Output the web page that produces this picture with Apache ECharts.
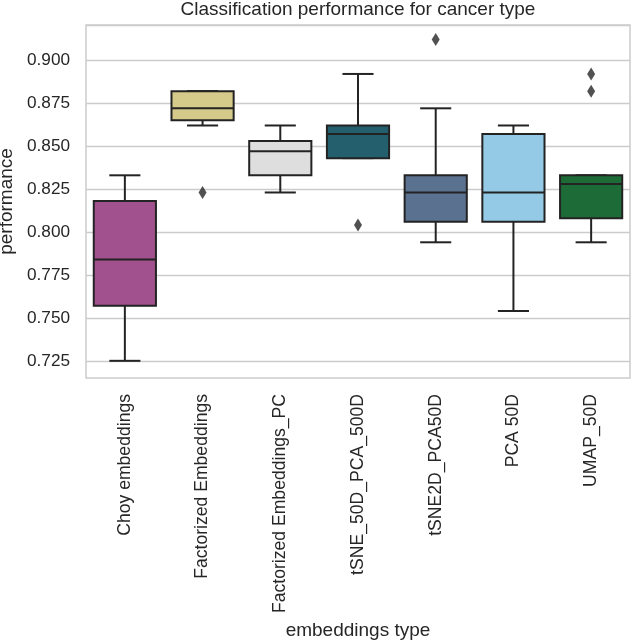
<!DOCTYPE html>
<html>
<head>
<meta charset="utf-8">
<script src="https://cdn.jsdelivr.net/npm/echarts@6/dist/echarts.min.js"></script>
<style>
html,body{margin:0;padding:0;background:#fff;}
#chart{width:633px;height:642px;}
</style>
</head>
<body>
<div id="chart"></div>
<script>
const categories = ['Choy embeddings','Factorized Embeddings','Factorized Embeddings_PC','tSNE_50D_PCA_500D','tSNE2D_PCA50D','PCA 50D','UMAP_50D'];
const lowerWhisker = [0.725, 0.862, 0.823, 0.843, 0.794, 0.754, 0.794];
const q1Values     = [0.757, 0.865, 0.833, 0.843, 0.806, 0.806, 0.808];
const medianValues = [0.784, 0.872, 0.847, 0.857, 0.823, 0.823, 0.828];
const q3Values     = [0.818, 0.882, 0.853, 0.862, 0.833, 0.857, 0.833];
const upperWhisker = [0.833, 0.882, 0.862, 0.892, 0.872, 0.862, 0.833];
const outlierCategory = [1, 3, 4, 6, 6];
const outlierValues   = [0.823, 0.804, 0.912, 0.892, 0.882];

const palette = ['#a0518e','#d5ca8a','#dedede','#235f6c','#5a7190','#94cae5','#1d6b36'];
const edge = '#232323';
const FONT = 'Liberation Sans, Arial, sans-serif';
const CLEAR = 'rgba(0,0,0,0)';
const GRIDC = '#cccccc';

const boxRows = categories.map((c,i)=>[i, lowerWhisker[i], q1Values[i], medianValues[i], q3Values[i], upperWhisker[i]]);
const outlierRows = outlierValues.map((v,i)=>[outlierCategory[i], v]);

const chart = echarts.init(document.getElementById('chart'));
chart.setOption({
  backgroundColor:'#ffffff',
  animation:false,
  title:{
    text:'Classification performance for cancer type',
    left:358, top:0, padding:0, textAlign:'center',
    textStyle:{fontFamily:FONT,fontSize:19,fontWeight:'normal',color:'#262626'}
  },
  grid:{left:86,right:3,top:25,bottom:264,containLabel:false,outerBoundsMode:'none',
        show:true,borderColor:'#cccccc',borderWidth:1.5,backgroundColor:'#ffffff'},
  xAxis:{
    type:'category', data:categories,
    axisLine:{show:false}, axisTick:{show:false},
    axisLabel:{rotate:90, margin:16, fontFamily:FONT, fontSize:17.6, color:'#262626'},
    name:'embeddings type', nameLocation:'middle', nameGap:243,
    nameTextStyle:{fontFamily:FONT,fontSize:19,color:'#262626'},
    splitLine:{show:false}
  },
  yAxis:{
    type:'value', min:0.715, max:0.9205, interval:0.005,
    axisLine:{show:false}, axisTick:{show:false},
    splitLine:{show:true, showMinLine:true, showMaxLine:true,
      lineStyle:{color:[CLEAR,CLEAR,GRIDC,CLEAR,CLEAR], width:1.3}},
    axisLabel:{
      margin:16, fontFamily:FONT, fontSize:17.2, color:'#262626',
      showMinLabel:false, showMaxLabel:false,
      formatter:function(v){ const m=Math.round(v*1000); return (m%25===0)? (m/1000).toFixed(3) : ''; }
    },
    name:'performance', nameLocation:'middle', nameGap:65,
    nameTextStyle:{fontFamily:FONT,fontSize:19,color:'#262626'}
  },
  series:[
    {
      type:'custom', z:2,
      data: boxRows,
      encode:{x:0, y:[1,2,3,4,5]},
      renderItem:function(params, api){
        const x = api.value(0);
        const pLow = api.coord([x, api.value(1)]);
        const pQ1 = api.coord([x, api.value(2)]);
        const pMed = api.coord([x, api.value(3)]);
        const pQ3 = api.coord([x, api.value(4)]);
        const pHigh = api.coord([x, api.value(5)]);
        const band = api.size([1,0])[0];
        const bw = band*0.8, cw = band*0.4;
        const cx = pMed[0];
        const ls = {stroke:edge, lineWidth:2, fill:null};
        return {
          type:'group',
          children:[
            {type:'line', shape:{x1:cx,y1:pQ3[1],x2:cx,y2:pHigh[1]}, style:ls},
            {type:'line', shape:{x1:cx,y1:pQ1[1],x2:cx,y2:pLow[1]}, style:ls},
            {type:'line', shape:{x1:cx-cw/2,y1:pHigh[1],x2:cx+cw/2,y2:pHigh[1]}, style:ls},
            {type:'line', shape:{x1:cx-cw/2,y1:pLow[1],x2:cx+cw/2,y2:pLow[1]}, style:ls},
            {type:'rect', shape:{x:cx-bw/2,y:pQ3[1],width:bw,height:pQ1[1]-pQ3[1]},
             style:{fill:palette[params.dataIndex], stroke:edge, lineWidth:2}},
            {type:'line', shape:{x1:cx-bw/2,y1:pMed[1],x2:cx+bw/2,y2:pMed[1]}, style:ls}
          ]
        };
      }
    },
    {
      type:'scatter', z:3,
      data: outlierRows,
      symbol:'diamond', symbolSize:[8,13],
      itemStyle:{color:'#262626'}
    }
  ]
});
</script>
</body>
</html>
